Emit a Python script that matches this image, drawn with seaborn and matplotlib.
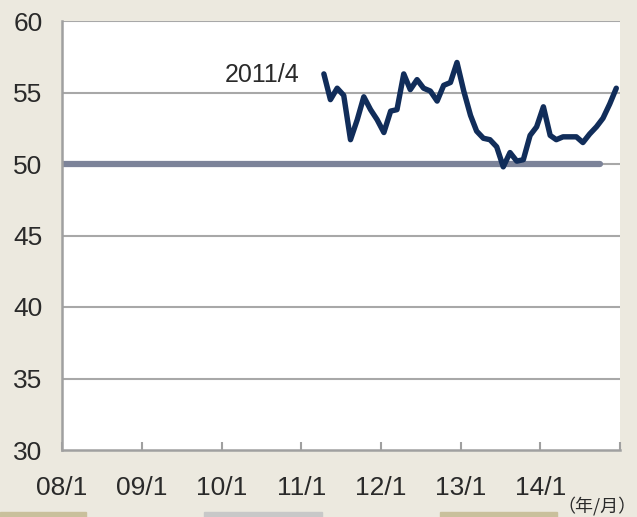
import pandas as pd
import matplotlib.pyplot as plt
import seaborn as sns

# 月次データ (2011/4 ～ 2014/12)
months = pd.date_range('2011-04-01', '2014-12-01', freq='MS') + pd.Timedelta(days=14)
values = [56.3, 54.5, 55.3, 54.8, 51.7, 53.1, 54.7, 53.8, 53.1, 52.2,
          53.7, 53.8, 56.3, 55.2, 55.9, 55.3, 55.1, 54.4, 55.5, 55.7,
          57.1, 55.1, 53.4, 52.3, 51.8, 51.7, 51.2, 49.8, 50.8, 50.2,
          50.3, 52.0, 52.6, 54.0, 52.0, 51.7, 51.9, 51.9, 51.9, 51.5,
          52.1, 52.6, 53.2, 54.2, 55.3]
base_dates = ['2008-01-01', '2014-10-01']
base_values = [50, 50]
year_ticks = ['2008-01-01', '2009-01-01', '2010-01-01', '2011-01-01', '2012-01-01',
              '2013-01-01', '2014-01-01', '2015-01-01']
year_labels = ['08/1', '09/1', '10/1', '11/1', '12/1', '13/1', '14/1', '']
y_ticks = [30, 35, 40, 45, 50, 55, 60]

df = pd.DataFrame({'date': months, 'value': values})
base = pd.DataFrame({'date': pd.to_datetime(base_dates), 'value': base_values})

sns.set_style('white')
plt.rcParams['font.family'] = ['Liberation Sans', 'DejaVu Sans']

bg = '#ece9df'
txt = '#2a2a2a'
fig = plt.figure(figsize=(6.37, 5.17), dpi=100, facecolor=bg)
ax = fig.add_axes([62 / 637, 1 - 450 / 517, 558 / 637, 429 / 517])
ax.set_facecolor('white')

for y in y_ticks[1:]:
    ax.axhline(y, color='#a8a8a8', lw=1.5, zorder=1)

sns.lineplot(data=base, x='date', y='value', ax=ax, color='#7c8399', lw=4.5, zorder=2)
sns.lineplot(data=df, x='date', y='value', ax=ax, color='#112d5a', lw=3.9, zorder=3)

ax.set_xlim(pd.Timestamp('2008-01-01'), pd.Timestamp('2015-01-01'))
ax.set_ylim(30, 60)
ax.set_xticks(pd.to_datetime(year_ticks))
ax.set_xticklabels(year_labels)
ax.set_yticks(y_ticks)
ax.set_xlabel('')
ax.set_ylabel('')

for s in ['top', 'right']:
    ax.spines[s].set_visible(False)
for s in ['left', 'bottom']:
    ax.spines[s].set_color('#a0a0a0')
    ax.spines[s].set_linewidth(1.8)

ax.tick_params(axis='x', bottom=True, direction='in', length=6, width=1.5, color='#a0a0a0',
               pad=19, labelsize=19, labelcolor=txt)
ax.tick_params(axis='y', left=False, length=0, pad=14, labelsize=19, labelcolor=txt)

ax.text(pd.Timestamp('2010-12-26'), 56.2, '2011/4', ha='right', va='center',
        fontsize=18, color=txt)

fig.text(0.999, 0.003, '（年/月）', ha='right', va='bottom', fontsize=13,
         color=txt, family=['Noto Sans CJK JP', 'DejaVu Sans'])

# 下部の装飾帯
for x0, x1, c in [(0, 86, '#c9c09c'), (204, 322, '#c8c8c8'), (440, 557, '#c9c09c')]:
    fig.patches.append(plt.Rectangle((x0 / 637, 0), (x1 - x0) / 637, 5 / 517,
                                     transform=fig.transFigure, color=c, zorder=0))

plt.savefig('out.png', dpi=100, facecolor=bg)
